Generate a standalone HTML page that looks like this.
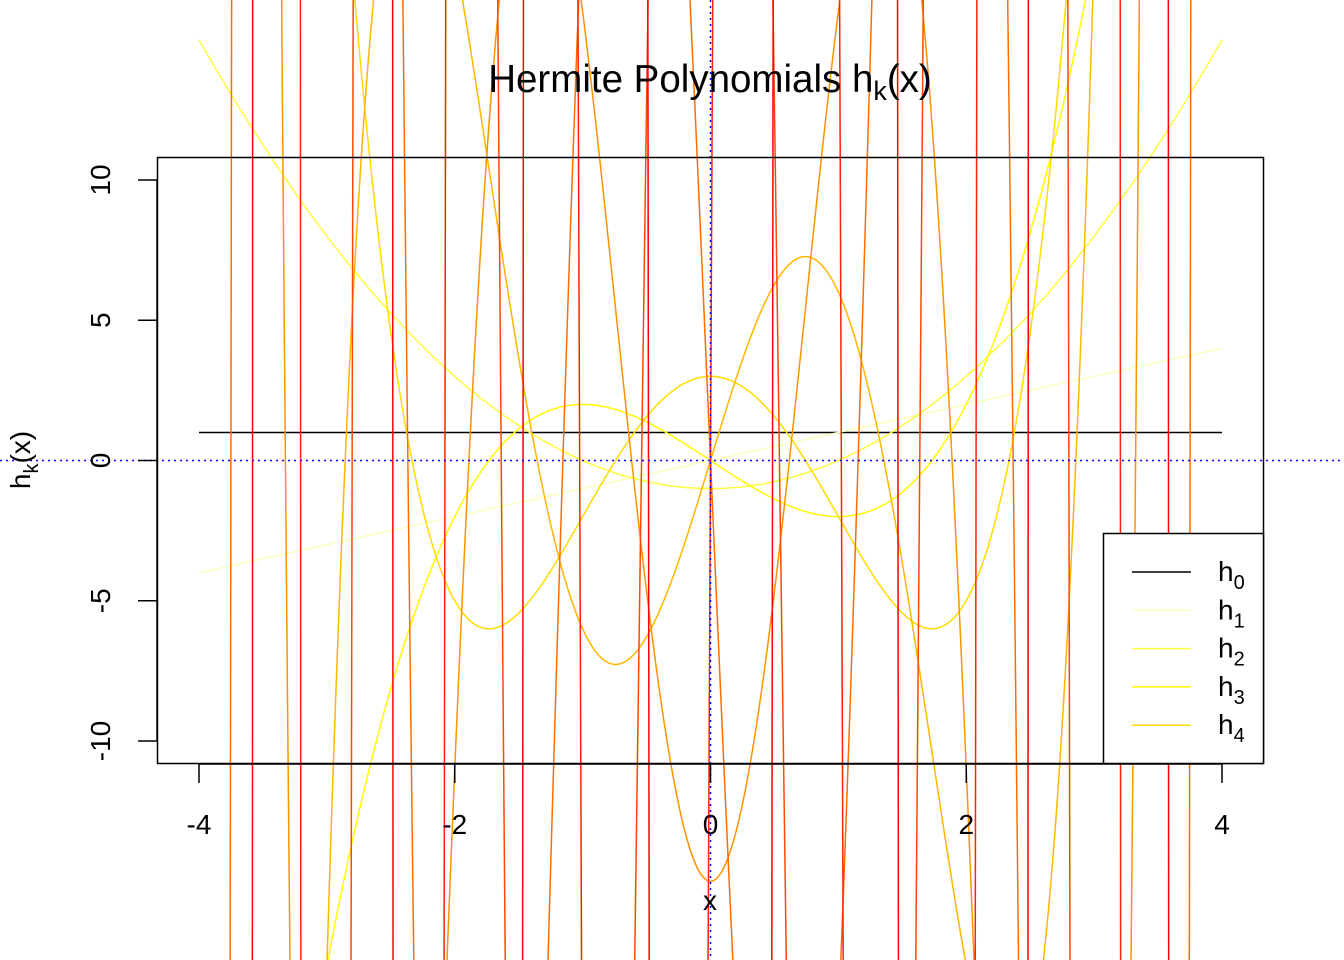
<!DOCTYPE html>
<html><head><meta charset="utf-8"><style>
html,body{margin:0;background:#fff;width:1344px;height:960px;overflow:hidden}
svg{display:block;overflow:hidden;font-family:"Liberation Sans",Arial,sans-serif}
</style></head><body>
<svg id="chart" width="1344" height="960" viewBox="0 0 1344 960">
<g id="curves"></g>
<g id="axes"></g>
</svg>
<script>
const degrees = [0,1,2,3,4,5,6,7,8,9,10];
const colors = ["#000000","#FFFFBF","#FFFF40","#FFFF00","#FFDB00","#FFB600","#FF9200","#FF6D00","#FF4900","#FF2400","#FF0000"];
const xTicks = [-4,-2,0,2,4];
const yTicks = [-10,-5,0,5,10];
const legendLabels = ["0","1","2","3","4"];
const xDomain = [-4,4];

const NS="http://www.w3.org/2000/svg";
const sx = v => 199 + (v + 4) * (1222 - 199) / 8;
const sy = v => 460.5 - v * (741 - 180) / 20;
function he(n,x){ if(n===0) return 1; let a=1,b=x; for(let k=1;k<n;k++){const c=x*b-k*a;a=b;b=c;} return b; }
function mk(tag,attrs,parent){const e=document.createElementNS(NS,tag);for(const k in attrs)e.setAttribute(k,attrs[k]);parent.appendChild(e);return e;}
const curves=document.getElementById('curves'), axes=document.getElementById('axes');

degrees.forEach((n,i)=>{
  let pts=[];
  for(let j=0;j<=4000;j++){const x=xDomain[0]+(xDomain[1]-xDomain[0])*j/4000;let y=sy(he(n,x));y=Math.max(-200,Math.min(1160,y));pts.push(sx(x).toFixed(2)+","+y.toFixed(2));}
  const p=mk('polyline',{points:pts.join(' '),fill:'none',stroke:colors[i],'stroke-width':1.5},curves);
  
  
});
let l=mk('line',{x1:0,x2:1344,y1:sy(0),y2:sy(0),stroke:'#0000ff','stroke-width':1.5,'stroke-dasharray':'2,4'},axes);


l=mk('line',{x1:sx(0),x2:sx(0),y1:0,y2:960,stroke:'#0000ff','stroke-width':1.5,'stroke-dasharray':'2,4'},axes);


let r=mk('rect',{x:157.5,y:157.5,width:1106,height:606,fill:'none',stroke:'#000','stroke-width':1.5},axes);


l=mk('line',{x1:sx(xTicks[0]),x2:sx(xTicks[xTicks.length-1]),y1:764,y2:764,stroke:'#000','stroke-width':1.5},axes);


xTicks.forEach(t=>{
  const tk=mk('line',{x1:sx(t),x2:sx(t),y1:764,y2:783,stroke:'#000','stroke-width':1.5},axes);
  
  
  const tx=mk('text',{x:sx(t),y:834,'font-size':28,'text-anchor':'middle'},axes);tx.textContent=t;
  
  
});
l=mk('line',{x1:157,x2:157,y1:sy(yTicks[0]),y2:sy(yTicks[yTicks.length-1]),stroke:'#000','stroke-width':1.5},axes);


yTicks.forEach(t=>{
  const tk=mk('line',{x1:138,x2:157,y1:sy(t),y2:sy(t),stroke:'#000','stroke-width':1.5},axes);
  
  
  const tx=mk('text',{x:0,y:0,'font-size':28,'text-anchor':'middle',transform:`translate(110,${sy(t)}) rotate(-90)`},axes);tx.textContent=t;
  
  
});
let t=mk('text',{x:710,y:92,'font-size':38.5,'text-anchor':'middle'},axes);
t.innerHTML='Hermite Polynomials h<tspan font-size="27" dy="8">k</tspan><tspan dy="-8">(x)</tspan>';


t=mk('text',{x:710,y:910,'font-size':28,'text-anchor':'middle'},axes);t.textContent='x';


t=mk('text',{x:0,y:0,'font-size':28,'text-anchor':'middle',transform:'translate(30,460) rotate(-90)'},axes);
t.innerHTML='h<tspan font-size="20" dy="8">k</tspan><tspan dy="-8">(x)</tspan>';


const lg=mk('g',{},axes);


mk('rect',{x:1103.5,y:533.5,width:160,height:230,fill:'#fff',stroke:'#000','stroke-width':1.5},lg);
legendLabels.forEach((lab,i)=>{
  const y=572+i*38.3;
  const g=mk('g',{},lg);
  
  
  mk('line',{x1:1132,x2:1191,y1:y,y2:y,stroke:colors[i],'stroke-width':1.5},g);
  const tx=mk('text',{x:1218,y:y+9,'font-size':28},g);
  tx.innerHTML='h<tspan font-size="20" dy="8">'+lab+'</tspan>';
});
</script>
</body></html>
